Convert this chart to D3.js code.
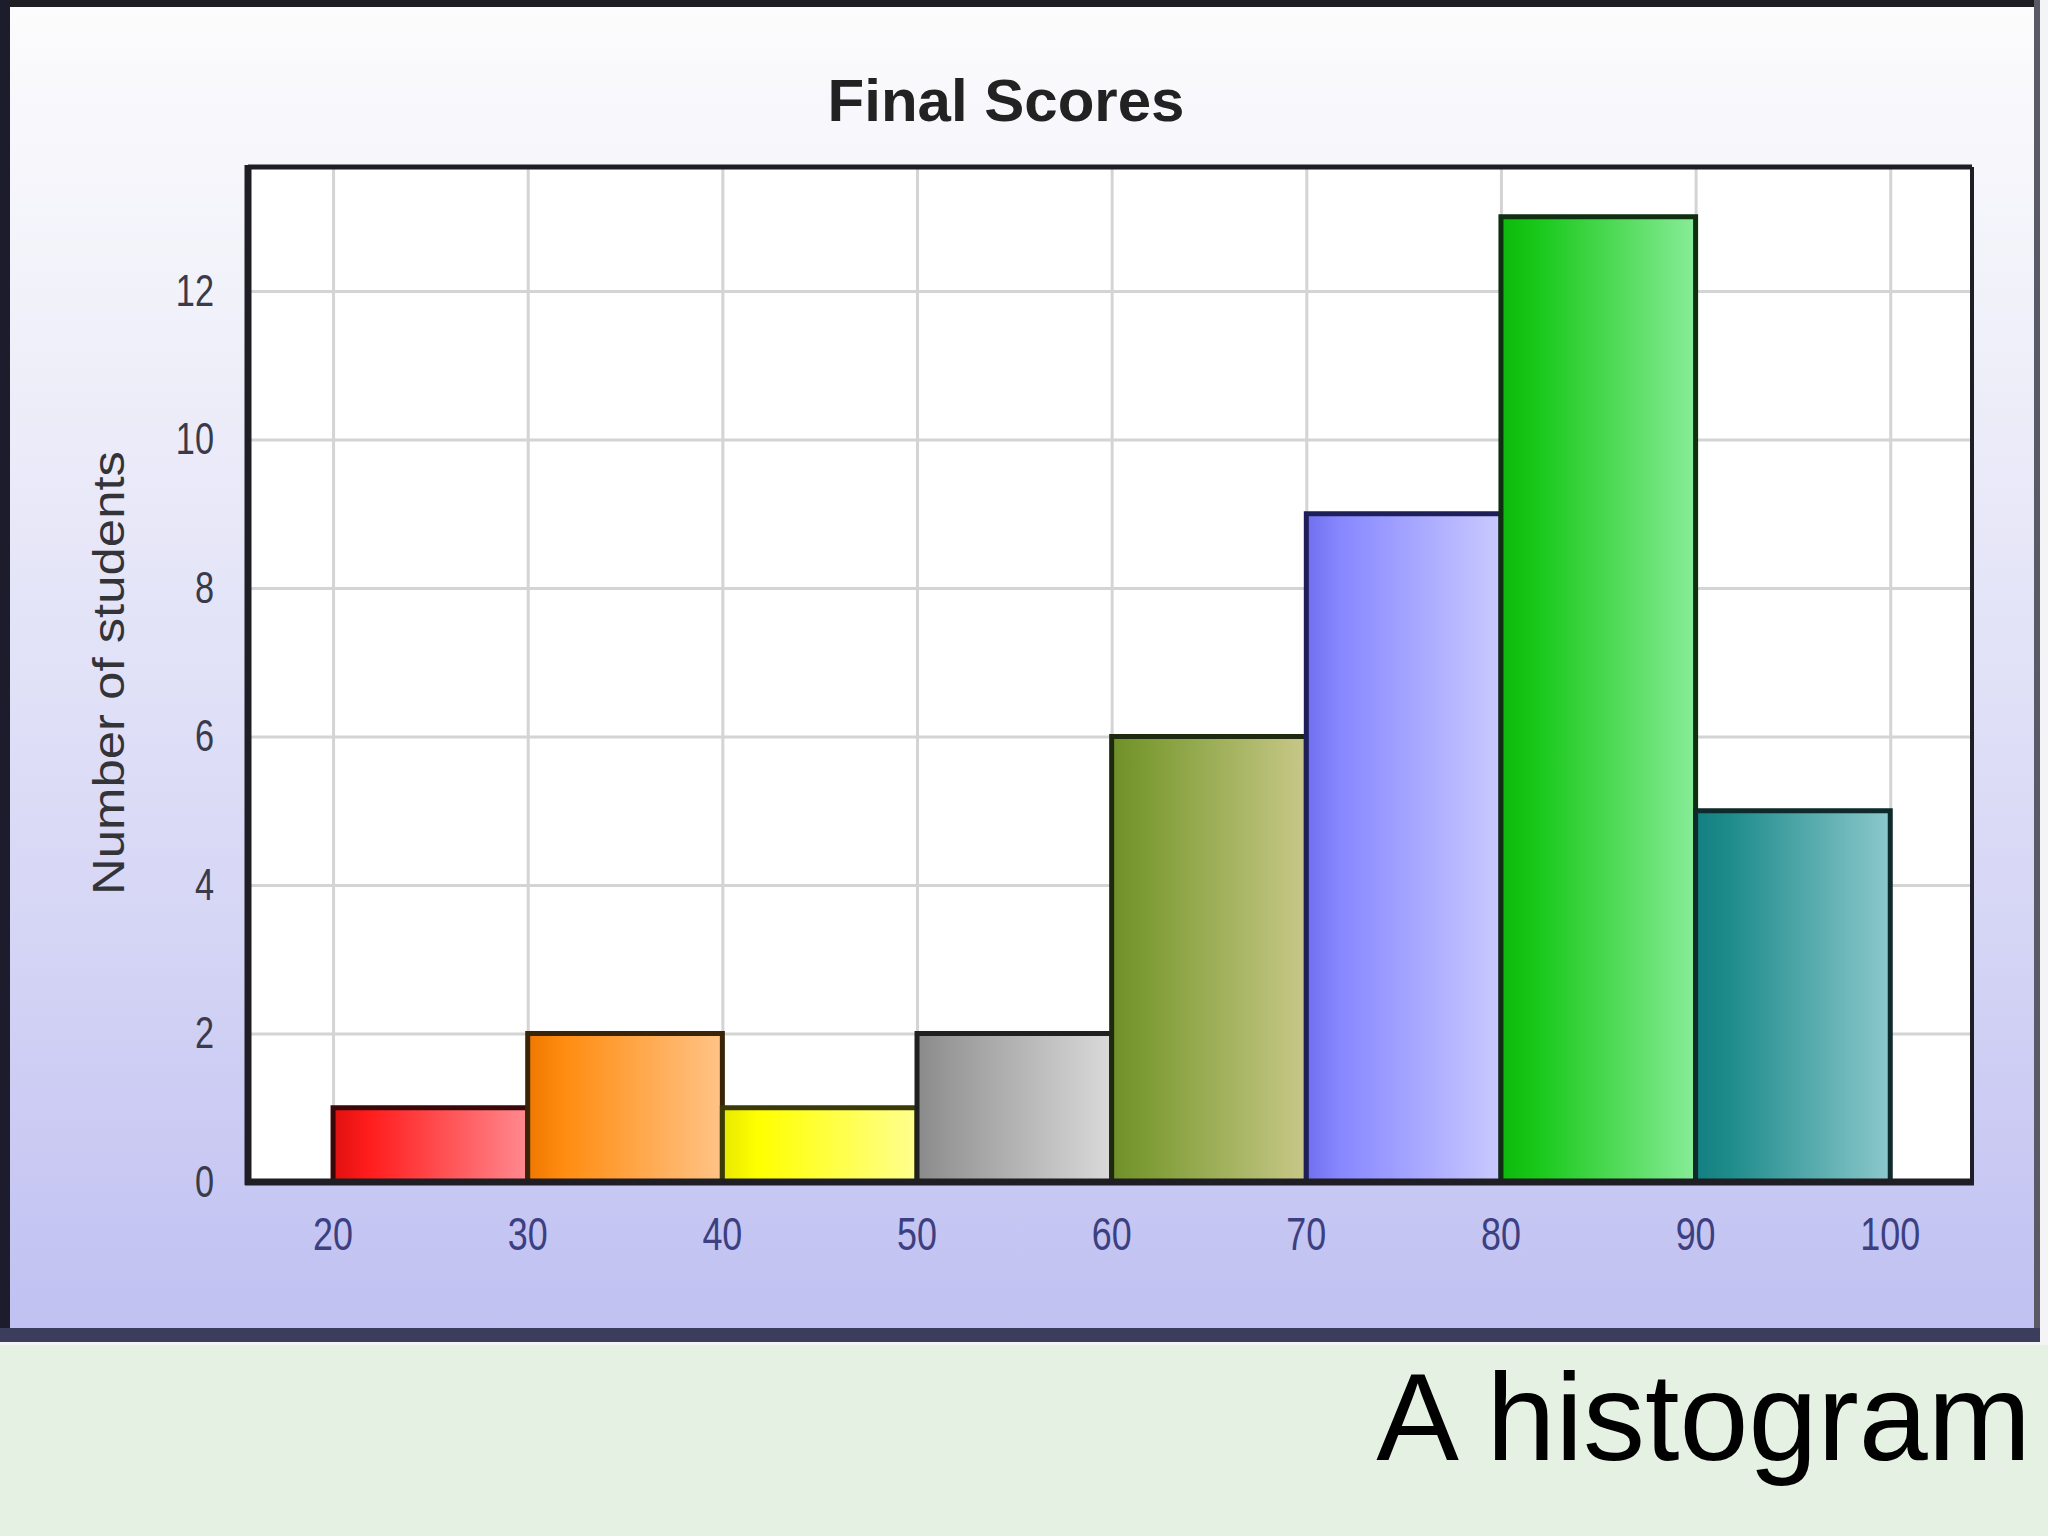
<!DOCTYPE html>
<html>
<head>
<meta charset="utf-8">
<script src="https://cdn.jsdelivr.net/npm/d3@7"></script>
<style>
  html, body { margin: 0; padding: 0; background: #e5f2e3; }
  svg { display: block; }
</style>
</head>
<body>
<div id="chart"></div>
<script>
// histogram data
var binEdges = [20, 30, 40, 50, 60, 70, 80, 90, 100];
var counts = [1, 2, 1, 2, 6, 9, 13, 5];
var yTicks = [0, 2, 4, 6, 8, 10, 12];
var titleText = 'Final Scores';
var yLabelText = 'Number of students';
var captionText = 'A histogram';

// colour of each bar: [dark edge, base, light side]
var palette = [
  ['#e01010', '#ff1c1c', '#ff8a90'],
  ['#f07800', '#ff8c10', '#ffc488'],
  ['#e8e800', '#ffff00', '#ffff90'],
  ['#8a8a8a', '#9a9a9a', '#dadada'],
  ['#6f8f28', '#7e9c35', '#c8c888'],
  ['#7070f0', '#8888ff', '#cacaff'],
  ['#0cb80c', '#18c818', '#88ec98'],
  ['#137f80', '#1f8c8c', '#8cc8cc']
];
var strokes = ['#3a0808', '#3a2408', '#3a3a08', '#202020', '#1e2a10', '#1e1e58', '#0e3010', '#0e2a2a'];

var W = 2048, H = 1536;
var plot = {left: 248, top: 167, right: 1972, bottom: 1182};

var svg = d3.select('#chart').append('svg')
    .attr('width', W)
    .attr('height', H);

var defs = svg.append('defs');

var bg = defs.append('linearGradient')
    .attr('id', 'frame-bg')
    .attr('x1', 0).attr('y1', 0).attr('x2', 0).attr('y2', 1);
bg.append('stop').attr('offset', '0%').attr('stop-color', '#fcfcfd');
bg.append('stop').attr('offset', '25%').attr('stop-color', '#f0f0fa');
bg.append('stop').attr('offset', '65%').attr('stop-color', '#d8d8f6');
bg.append('stop').attr('offset', '100%').attr('stop-color', '#c0c0f2');

palette.forEach(function(p, i) {
  var g = defs.append('linearGradient')
      .attr('id', 'bar-grad-' + i)
      .attr('x1', 0).attr('y1', 0).attr('x2', 1).attr('y2', 0);
  g.append('stop').attr('offset', '0%').attr('stop-color', p[0]);
  g.append('stop').attr('offset', '18%').attr('stop-color', p[1]);
  g.append('stop').attr('offset', '100%').attr('stop-color', p[2]);
});

// page parts: white strip on right, framed chart panel, green caption band
svg.append('rect')
    .attr('x', 0).attr('y', 0).attr('width', W).attr('height', 1345)
    .attr('fill', '#f4f4f6');
svg.append('rect')
    .attr('x', 0).attr('y', 0).attr('width', 2040).attr('height', 1340)
    .attr('fill', 'url(#frame-bg)');
svg.append('rect')
    .attr('x', 0).attr('y', 1345).attr('width', W).attr('height', H - 1345)
    .attr('fill', '#e5f2e3');

// frame borders
svg.append('rect').attr('x', 0).attr('y', 0).attr('width', 2040).attr('height', 7).attr('fill', '#1e1e22');
svg.append('rect').attr('x', 0).attr('y', 0).attr('width', 10).attr('height', 1340).attr('fill', '#1c1c2c');
svg.append('rect').attr('x', 2034).attr('y', 0).attr('width', 6).attr('height', 1340).attr('fill', '#5a5a66');
svg.append('rect').attr('x', 0).attr('y', 1328).attr('width', 2040).attr('height', 14).attr('fill', '#3c3c5c');

// scales
var x = d3.scaleLinear()
    .domain([15.63, 104.2])
    .range([plot.left, plot.right]);
var y = d3.scaleLinear()
    .domain([0, 13.67])
    .range([plot.bottom, plot.top]);

// plot background
svg.append('rect')
    .attr('x', plot.left).attr('y', plot.top)
    .attr('width', plot.right - plot.left)
    .attr('height', plot.bottom - plot.top)
    .attr('fill', '#ffffff');

// grid lines
var grid = svg.append('g').attr('class', 'grid');
grid.append('g')
    .attr('transform', 'translate(0,' + plot.bottom + ')')
    .call(d3.axisBottom(x).tickValues(binEdges).tickSize(-(plot.bottom - plot.top)).tickFormat(''))
    .call(function(g) { g.select('.domain').remove(); })
    .selectAll('line')
    .attr('stroke', '#d4d4d4')
    .attr('stroke-width', 3);
grid.append('g')
    .attr('transform', 'translate(' + plot.left + ',0)')
    .call(d3.axisLeft(y).tickValues(yTicks.filter(function(d) { return d > 0; })).tickSize(-(plot.right - plot.left)).tickFormat(''))
    .call(function(g) { g.select('.domain').remove(); })
    .selectAll('line')
    .attr('stroke', '#d4d4d4')
    .attr('stroke-width', 3);

// bars
var bins = counts.map(function(c, i) {
  return {x0: binEdges[i], x1: binEdges[i + 1], count: c, i: i};
});

svg.append('g')
    .attr('class', 'bars')
    .selectAll('rect.bar')
    .data(bins)
    .enter()
    .append('rect')
    .attr('class', 'bar')
    .attr('x', function(d) { return x(d.x0); })
    .attr('y', function(d) { return y(d.count); })
    .attr('width', function(d) { return x(d.x1) - x(d.x0); })
    .attr('height', function(d) { return y(0) - y(d.count); })
    .attr('fill', function(d) { return 'url(#bar-grad-' + d.i + ')'; })
    .attr('stroke', function(d) { return strokes[d.i]; })
    .attr('stroke-width', 5);

// plot frame
var frame = svg.append('g').attr('class', 'plot-frame').attr('stroke', '#1e1e24').attr('fill', 'none');
frame.append('line').attr('x1', plot.left).attr('x2', plot.right).attr('y1', plot.top).attr('y2', plot.top).attr('stroke-width', 5);
frame.append('line').attr('x1', plot.right).attr('x2', plot.right).attr('y1', plot.top).attr('y2', plot.bottom).attr('stroke-width', 4);
frame.append('line').attr('x1', plot.left).attr('x2', plot.left).attr('y1', plot.top - 2).attr('y2', plot.bottom + 3).attr('stroke-width', 7);
frame.append('line').attr('x1', plot.left - 3).attr('x2', plot.right + 2).attr('y1', plot.bottom).attr('y2', plot.bottom).attr('stroke-width', 7);

// x tick labels
svg.append('g')
    .attr('class', 'x-labels')
    .selectAll('text')
    .data(binEdges)
    .enter()
    .append('text')
    .attr('transform', function(d) { return 'translate(' + x(d) + ',1250) scale(0.78,1)'; })
    .attr('text-anchor', 'middle')
    .style('font-family', '"Liberation Sans", Arial, sans-serif')
    .style('font-size', '46px')
    .style('fill', '#3c4080')
    .text(function(d) { return d; });

// y tick labels
svg.append('g')
    .attr('class', 'y-labels')
    .selectAll('text')
    .data(yTicks)
    .enter()
    .append('text')
    .attr('transform', function(d) { return 'translate(214,' + (y(d) + 15) + ') scale(0.78,1)'; })
    .attr('text-anchor', 'end')
    .style('font-family', '"Liberation Sans", Arial, sans-serif')
    .style('font-size', '44px')
    .style('fill', '#3a3a4a')
    .text(function(d) { return d; });

// y axis title
svg.append('text')
    .attr('transform', 'translate(124,673) rotate(-90)')
    .attr('text-anchor', 'middle')
    .attr('textLength', 444)
    .attr('lengthAdjust', 'spacingAndGlyphs')
    .style('font-family', '"Liberation Sans", Arial, sans-serif')
    .style('font-size', '44px')
    .style('fill', '#333338')
    .text(yLabelText);

// chart title
svg.append('text')
    .attr('x', 1006)
    .attr('y', 121)
    .attr('text-anchor', 'middle')
    .style('font-family', '"Liberation Sans", Arial, sans-serif')
    .style('font-weight', 'bold')
    .style('font-size', '60px')
    .style('fill', '#222222')
    .text(titleText);

// caption
svg.append('text')
    .attr('x', 2031)
    .attr('y', 1460)
    .attr('text-anchor', 'end')
    .style('font-family', '"Liberation Sans", Arial, sans-serif')
    .style('font-size', '124px')
    .style('fill', '#000000')
    .text(captionText);
</script>
</body>
</html>
